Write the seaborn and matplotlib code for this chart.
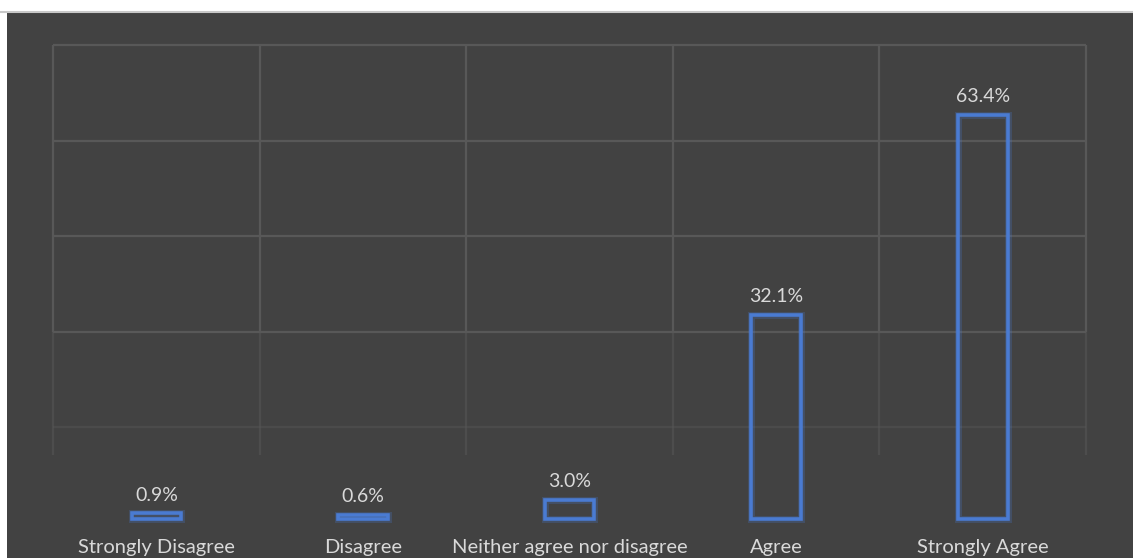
import matplotlib
matplotlib.use("Agg")
import matplotlib.pyplot as plt
import matplotlib.patheffects as pe
import seaborn as sns

# Survey answers and share of respondents (%)
categories = ["Strongly Disagree", "Disagree", "Neither agree nor disagree",
              "Agree", "Strongly Agree"]
shares = [0.9, 0.6, 3.0, 32.1, 63.4]

bg = "#424242"
grid_col = "#585858"
bar_col = "#4a7bd2"
text_col = "#d9d9d9"

sns.set_style("dark")
plt.rcParams["font.family"] = ["Lato", "DejaVu Sans"]

fig = plt.figure(figsize=(11.33, 5.58), dpi=100, facecolor="white")
ax = fig.add_axes([7 / 1133, 0, 1126 / 1133, 546 / 558])
ax.set_facecolor(bg)

# background grid (the chart's frame lines)
grid_y = [14.4, 29.4, 44.4, 59.4, 74.4]
for i, gy in enumerate(grid_y):
    ax.hlines(gy, -0.5, 4.5, color=grid_col, lw=1.6,
              alpha=0.45 if i == 0 else 1, zorder=0)
for gx in [-0.5, 0.5, 1.5, 2.5, 3.5, 4.5]:
    ax.vlines(gx, 29.4, 74.4, color=grid_col, lw=1.6, zorder=0)
    ax.vlines(gx, 10.0, 29.4, color=grid_col, lw=1.6, alpha=0.5, zorder=0)

sns.barplot(x=categories, y=shares, ax=ax, fill=False, width=0.24,
            edgecolor=bar_col, linewidth=2.6, zorder=3)
for p in ax.patches:
    p.set_path_effects([pe.Stroke(linewidth=5, foreground=bar_col, alpha=0.25),
                        pe.Normal()])

for c in ax.containers:
    ax.bar_label(c, labels=[f"{v:.1f}%" for v in shares], padding=7,
                 color=text_col, fontsize=14)

for i, name in enumerate(categories):
    ax.text(i, -4.4, name, ha="center", va="center", color=text_col, fontsize=14.5)

ax.set_xlim(-0.723, 4.727)
ax.set_ylim(-6.12, 79.6)
ax.set_xticks([])
ax.set_yticks([])
ax.set_xlabel("")
ax.set_ylabel("")
for s in ax.spines.values():
    s.set_visible(False)

# thin light line under the white top strip
fig.add_artist(plt.Line2D([0, 1], [546 / 558, 546 / 558], color="#c8c8c8", lw=1.5))

fig.savefig("out.png", dpi=100, facecolor="white")
